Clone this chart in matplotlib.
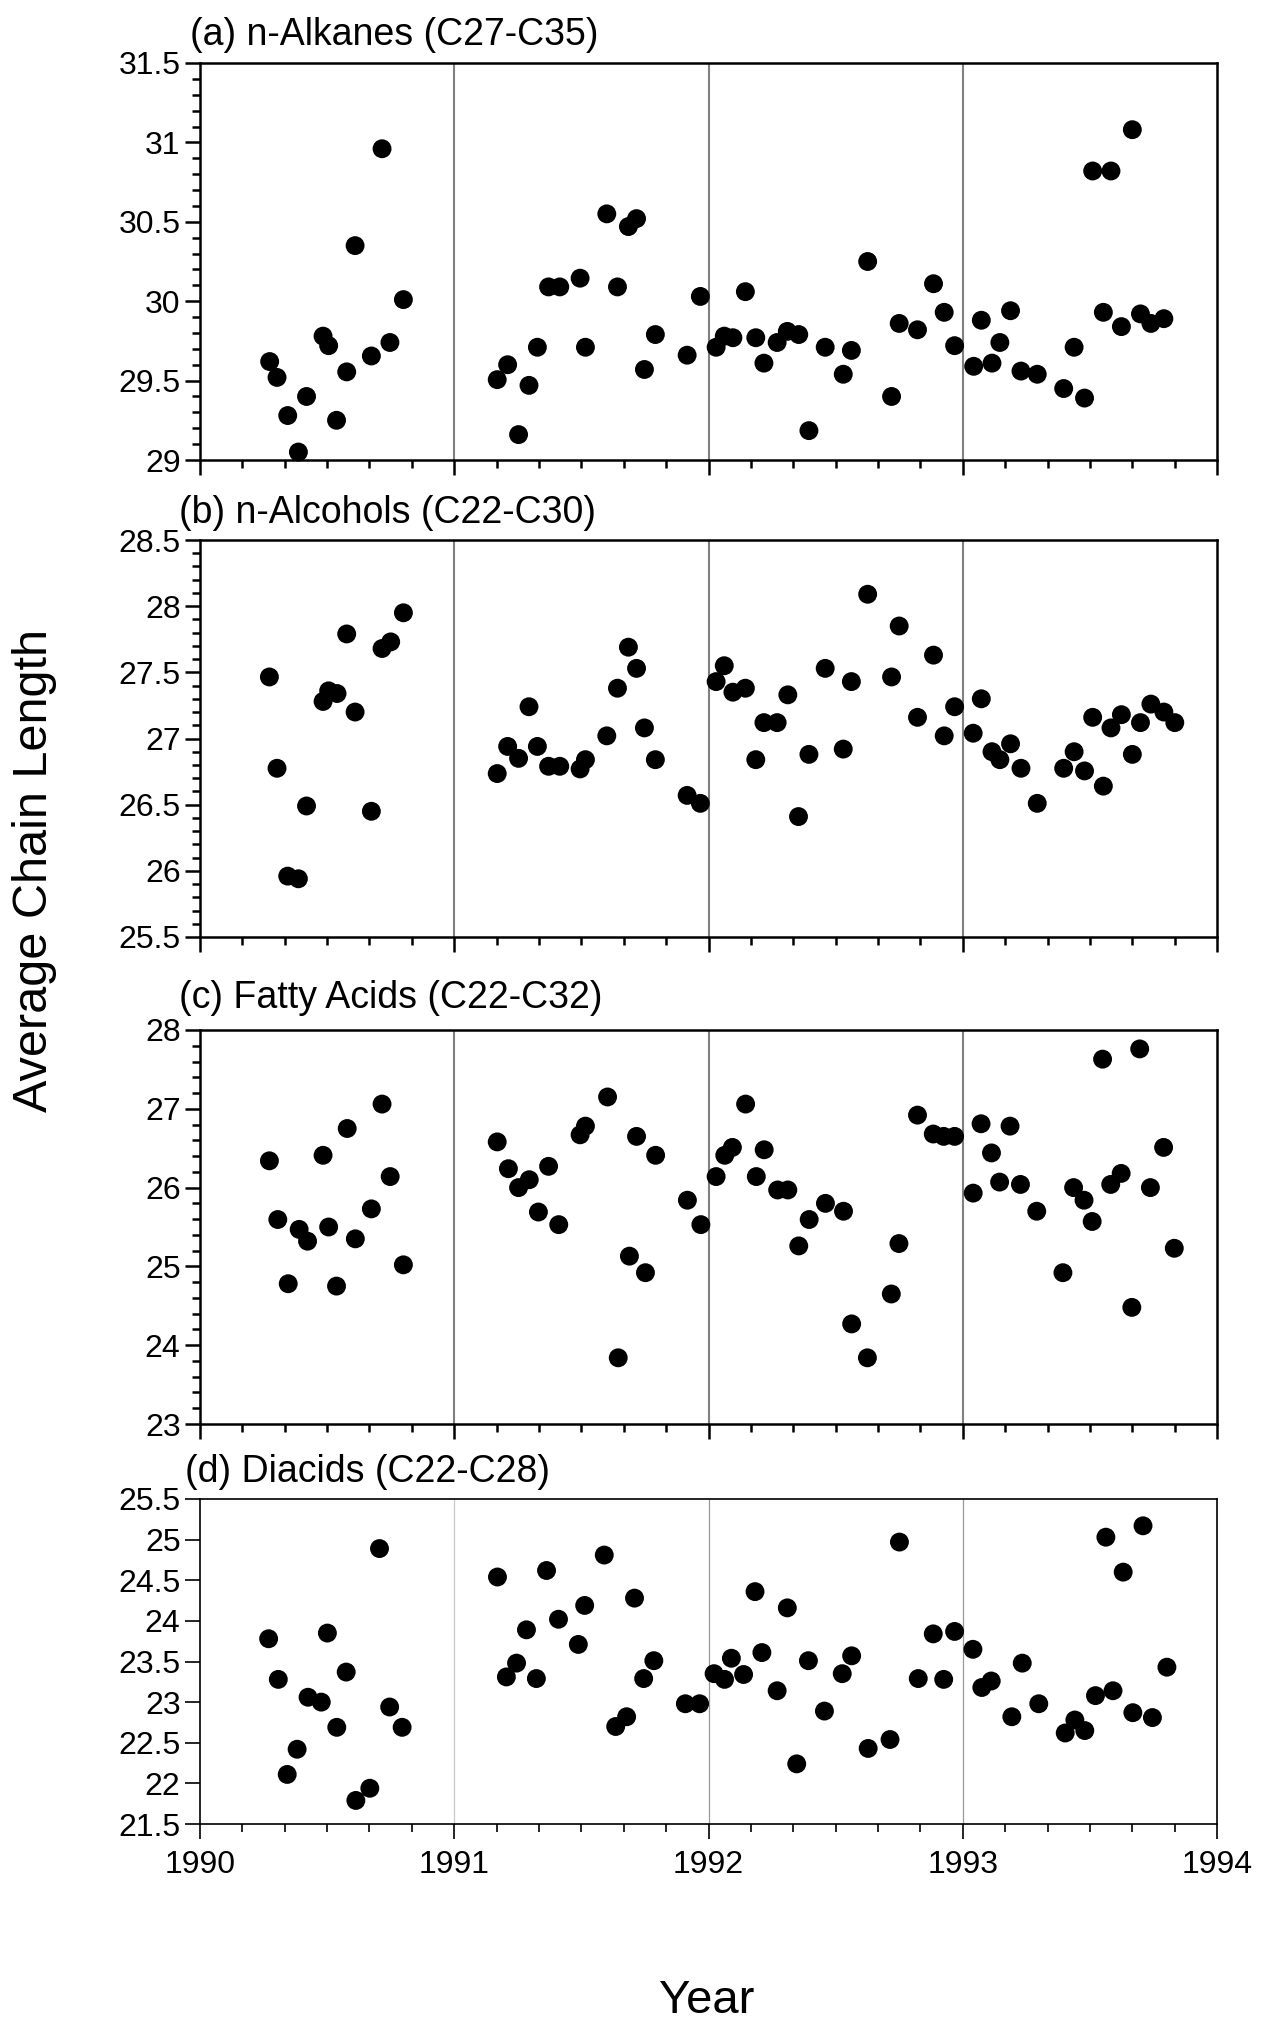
import matplotlib
matplotlib.use("Agg")
import matplotlib.pyplot as plt
from matplotlib.ticker import MultipleLocator, FuncFormatter
from matplotlib import font_manager

plt.rcParams['font.family'] = ['Liberation Sans', 'DejaVu Sans']
_names = {f.name for f in font_manager.fontManager.ttflist}
HAS_NARROW = 'Liberation Sans Narrow' in _names
NARROW = ['Liberation Sans Narrow', 'Liberation Sans', 'DejaVu Sans'] if HAS_NARROW else ['Liberation Sans', 'DejaVu Sans']

# ---------------- data ----------------
alk_x = [1990.274, 1990.303, 1990.345, 1990.387, 1990.419, 1990.484, 1990.506, 1990.537, 1990.577, 1990.610, 1990.674, 1990.716, 1990.747, 1990.800,
         1991.169, 1991.210, 1991.253, 1991.294, 1991.327, 1991.371, 1991.415, 1991.495, 1991.516, 1991.600, 1991.642, 1991.685, 1991.717, 1991.748, 1991.791, 1991.916, 1991.968,
         1992.030, 1992.062, 1992.096, 1992.145, 1992.186, 1992.218, 1992.270, 1992.310, 1992.355, 1992.395, 1992.459, 1992.530, 1992.562, 1992.626, 1992.720, 1992.750, 1992.822, 1992.885, 1992.927, 1992.968,
         1993.043, 1993.073, 1993.115, 1993.146, 1993.188, 1993.229, 1993.293, 1993.397, 1993.438, 1993.479, 1993.511, 1993.553, 1993.583, 1993.624, 1993.667, 1993.699, 1993.740, 1993.791]
alk_y = [29.62, 29.52, 29.28, 29.05, 29.40, 29.78, 29.72, 29.25, 29.555, 30.35, 29.655, 30.96, 29.74, 30.01,
         29.506, 29.60, 29.16, 29.47, 29.71, 30.09, 30.09, 30.145, 29.71, 30.55, 30.09, 30.47, 30.52, 29.57, 29.79, 29.66, 30.03,
         29.71, 29.78, 29.77, 30.06, 29.77, 29.61, 29.74, 29.81, 29.79, 29.185, 29.71, 29.54, 29.69, 30.25, 29.40, 29.86, 29.82, 30.11, 29.93, 29.72,
         29.59, 29.88, 29.61, 29.74, 29.94, 29.56, 29.54, 29.45, 29.71, 29.39, 30.82, 29.93, 30.82, 29.84, 31.08, 29.92, 29.86, 29.89]

alc_x = [1990.273, 1990.303, 1990.345, 1990.387, 1990.419, 1990.484, 1990.506, 1990.539, 1990.577, 1990.610, 1990.674, 1990.716, 1990.750, 1990.800,
         1991.169, 1991.210, 1991.253, 1991.294, 1991.327, 1991.371, 1991.415, 1991.495, 1991.516, 1991.600, 1991.642, 1991.685, 1991.717, 1991.748, 1991.791, 1991.916, 1991.968,
         1992.030, 1992.062, 1992.096, 1992.145, 1992.186, 1992.218, 1992.270, 1992.312, 1992.354, 1992.395, 1992.459, 1992.530, 1992.562, 1992.626, 1992.720, 1992.750, 1992.822, 1992.885, 1992.927, 1992.968,
         1993.041, 1993.073, 1993.115, 1993.146, 1993.188, 1993.229, 1993.293, 1993.397, 1993.438, 1993.479, 1993.511, 1993.553, 1993.583, 1993.624, 1993.667, 1993.699, 1993.740, 1993.791, 1993.834]
alc_y = [27.465, 26.775, 25.96, 25.94, 26.49, 27.28, 27.36, 27.34, 27.79, 27.20, 26.45, 27.68, 27.73, 27.95,
         26.735, 26.94, 26.85, 27.24, 26.94, 26.79, 26.79, 26.77, 26.84, 27.02, 27.38, 27.69, 27.53, 27.08, 26.84, 26.57, 26.51,
         27.43, 27.55, 27.35, 27.38, 26.84, 27.12, 27.12, 27.33, 26.41, 26.88, 27.53, 26.92, 27.43, 28.09, 27.465, 27.85, 27.16, 27.63, 27.02, 27.24,
         27.04, 27.30, 26.90, 26.84, 26.96, 26.775, 26.51, 26.775, 26.90, 26.755, 27.16, 26.64, 27.08, 27.18, 26.88, 27.12, 27.26, 27.20, 27.12]

fa_x = [1990.273, 1990.306, 1990.347, 1990.390, 1990.423, 1990.484, 1990.506, 1990.537, 1990.579, 1990.611, 1990.674, 1990.716, 1990.748, 1990.800,
        1991.169, 1991.213, 1991.253, 1991.295, 1991.331, 1991.371, 1991.411, 1991.495, 1991.516, 1991.603, 1991.645, 1991.689, 1991.717, 1991.752, 1991.792, 1991.917, 1991.970,
        1992.030, 1992.064, 1992.094, 1992.146, 1992.188, 1992.219, 1992.272, 1992.312, 1992.355, 1992.396, 1992.460, 1992.531, 1992.563, 1992.625, 1992.719, 1992.749, 1992.822, 1992.884, 1992.925, 1992.968,
        1993.041, 1993.072, 1993.113, 1993.145, 1993.186, 1993.227, 1993.291, 1993.394, 1993.436, 1993.477, 1993.509, 1993.550, 1993.582, 1993.623, 1993.665, 1993.696, 1993.738, 1993.790, 1993.832]
fa_y = [26.34, 25.595, 24.78, 25.47, 25.32, 26.41, 25.50, 24.75, 26.75, 25.35, 25.73, 27.06, 26.14, 25.02,
        26.58, 26.24, 26.00, 26.10, 25.69, 26.27, 25.53, 26.67, 26.78, 27.15, 23.84, 25.13, 26.65, 24.92, 26.41, 25.84, 25.53,
        26.14, 26.41, 26.51, 27.06, 26.14, 26.48, 25.97, 25.97, 25.26, 25.595, 25.80, 25.70, 24.27, 23.84, 24.65, 25.29, 26.92, 26.68, 26.65, 26.65,
        25.93, 26.81, 26.44, 26.07, 26.78, 26.04, 25.70, 24.92, 26.00, 25.84, 25.57, 27.63, 26.04, 26.18, 24.48, 27.76, 26.00, 26.51, 25.23]

dia_x = [1990.270, 1990.308, 1990.343, 1990.382, 1990.425, 1990.477, 1990.501, 1990.538, 1990.575, 1990.613, 1990.668, 1990.706, 1990.746, 1990.795,
         1991.170, 1991.205, 1991.245, 1991.284, 1991.323, 1991.363, 1991.410, 1991.488, 1991.513, 1991.590, 1991.635, 1991.678, 1991.709, 1991.745, 1991.785, 1991.909, 1991.965,
         1992.022, 1992.063, 1992.090, 1992.138, 1992.183, 1992.210, 1992.270, 1992.310, 1992.347, 1992.393, 1992.456, 1992.526, 1992.563, 1992.628, 1992.714, 1992.751, 1992.825, 1992.884, 1992.925, 1992.968,
         1993.040, 1993.075, 1993.112, 1993.193, 1993.234, 1993.299, 1993.403, 1993.441, 1993.480, 1993.522, 1993.563, 1993.591, 1993.631, 1993.669, 1993.709, 1993.746, 1993.803]
dia_y = [23.78, 23.28, 22.11, 22.42, 23.06, 23.00, 23.85, 22.69, 23.37, 21.79, 21.94, 24.89, 22.94, 22.69,
         24.54, 23.31, 23.48, 23.89, 23.29, 24.62, 24.02, 23.71, 24.19, 24.81, 22.70, 22.82, 24.28, 23.29, 23.51, 22.98, 22.98,
         23.35, 23.28, 23.54, 23.34, 24.36, 23.61, 23.14, 24.16, 22.24, 23.51, 22.89, 23.35, 23.57, 22.43, 22.54, 24.97, 23.29, 23.84, 23.28, 23.87,
         23.65, 23.18, 23.26, 22.82, 23.48, 22.98, 22.62, 22.78, 22.65, 23.08, 25.03, 23.14, 24.60, 22.87, 25.17, 22.81, 23.43]

titles = ["(a) n-Alkanes (C27-C35)", "(b) n-Alcohols (C22-C30)",
          "(c) Fatty Acids (C22-C32)", "(d) Diacids (C22-C28)"]
ylims = [(29, 31.5), (25.5, 28.5), (23, 28), (21.5, 25.5)]
year_ticks = [1990, 1991, 1992, 1993, 1994]
year_labels = ["1990", "1991", "1992", "1993", "1994"]
grid_years = [1991, 1992, 1993]

# ---------------- figure ----------------
W, H = 1269, 2025
fig = plt.figure(figsize=(W / 100, H / 100), dpi=100)

left_px, right_px = 200, 1217
panel_px = [(63, 460), (540, 937), (1030, 1424), (1499, 1824)]
major_y = [0.5, 0.5, 1.0, 0.5]
minor_y = [0.1, 0.1, 0.2, None]
title_off = [(-7, 13), (-15, 12), (-15, 16), (-11, 12)]
series = [(alk_x, alk_y), (alc_x, alc_y), (fa_x, fa_y), (dia_x, dia_y)]

fmt = FuncFormatter(lambda v, p: "%g" % v)
TICK_FS = 26 if HAS_NARROW else 23
TITLE_FS = 31 if HAS_NARROW else 27

for i, ((top, bot), (xs, ys)) in enumerate(zip(panel_px, series)):
    ax = fig.add_axes([left_px / W, 1 - bot / H, (right_px - left_px) / W, (bot - top) / H])
    last = (i == 3)
    for gy in grid_years:
        if last:
            col = '#c8c8c8' if gy == 1991 else '#999999'
            ax.axvline(gy, color=col, lw=0.9, zorder=1)
        else:
            ax.axvline(gy, color='#808080', lw=1.5, zorder=1)
    ax.scatter(xs, ys, s=185, color='black', edgecolors='none', zorder=3, clip_on=False)
    ax.set_xlim(1990, 1994)
    ax.set_ylim(*ylims[i])
    ax.xaxis.set_major_locator(plt.FixedLocator(year_ticks))
    ax.xaxis.set_minor_locator(MultipleLocator(1 / 6))
    ax.yaxis.set_major_locator(MultipleLocator(major_y[i]))
    if minor_y[i]:
        ax.yaxis.set_minor_locator(MultipleLocator(minor_y[i]))
    ax.yaxis.set_major_formatter(fmt)
    spw = 1.2 if last else 1.8
    for s in ax.spines.values():
        s.set_linewidth(spw)
    ax.tick_params(axis='both', which='major', direction='out', length=11, width=spw,
                   labelsize=TICK_FS, pad=3)
    ax.tick_params(axis='both', which='minor', direction='out', length=6, width=spw)
    ax.tick_params(top=False, right=False, which='both')
    if last:
        ax.set_xticklabels(year_labels)
        ax.tick_params(axis='x', which='major', pad=8)
    else:
        ax.tick_params(axis='x', which='both', labelbottom=False)
    for lab in ax.get_yticklabels() + ax.get_xticklabels():
        lab.set_family(NARROW)
    dx, dy = title_off[i]
    ax.annotate(titles[i], xy=(0, 1), xycoords='axes fraction', xytext=(dx, dy),
                textcoords='offset points', ha='left', va='baseline',
                fontsize=TITLE_FS, family=NARROW)

fig.text(0.027, 0.57, "Average Chain Length", rotation=90, ha='center', va='center', fontsize=35)
fig.text(0.557, 0.012, "Year", ha='center', va='center', fontsize=34)

fig.savefig("out.png", dpi=100)
